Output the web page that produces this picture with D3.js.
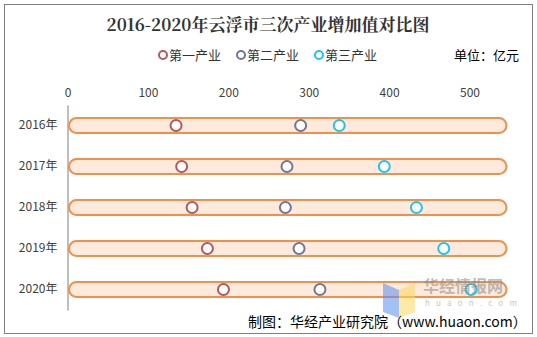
<!DOCTYPE html>
<html>
<head>
<meta charset="utf-8">
<script src="https://cdn.jsdelivr.net/npm/d3@7/dist/d3.min.js"></script>
<style>
  html, body { margin: 0; padding: 0; background: #fff; }
  svg { display: block; }
</style>
</head>
<body>
<svg id="chart" width="537" height="337"></svg>
<script>
// Value added by sector, Yunfu, 2016–2020 (100 million yuan)
const years = ["2016年", "2017年", "2018年", "2019年", "2020年"];
const primary = [135, 142, 155, 174, 194];
const secondary = [290, 273, 271, 288, 314];
const tertiary = [338, 394, 434, 468, 502];
const trackMax = [546, 546, 546, 546, 546];
const tickValues = [0, 100, 200, 300, 400, 500];
const seriesNames = ["第一产业", "第二产业", "第三产业"];
const seriesColors = ["#b3595c", "#6d7896", "#1ec3f7"];

const svg = d3.select("#chart");
const font = "'Microsoft YaHei', 'Noto Sans CJK SC', sans-serif";

// outer frame
svg.append("rect")
  .attr("x", 4.5).attr("y", 4.5).attr("width", 528).attr("height", 329)
  .attr("fill", "#fff").attr("stroke", "#7f7f7f").attr("stroke-width", 1);

// title
svg.append("text")
  .attr("x", 268).attr("y", 31)
  .attr("text-anchor", "middle")
  .attr("font-family", "'Noto Serif CJK SC', 'Noto Sans CJK SC', serif")
  .attr("font-weight", "bold").attr("font-size", 17)
  .attr("fill", "#333")
  .text("2016-2020年云浮市三次产业增加值对比图");

// legend
const legendX = [163, 241, 319];
seriesNames.forEach((name, i) => {
  const g = svg.append("g").attr("transform", `translate(${legendX[i]},55)`);
  g.append("circle").attr("r", 4).attr("fill", "#fff")
    .attr("stroke", seriesColors[i]).attr("stroke-width", 2);
  g.append("text").attr("x", 6).attr("y", 5)
    .attr("font-family", font).attr("font-size", 13).attr("fill", "#333")
    .text(name);
});

svg.append("text")
  .attr("x", 519).attr("y", 60).attr("text-anchor", "end")
  .attr("font-family", font).attr("font-size", 13).attr("fill", "#000")
  .text("单位：亿元");

// scales
const x = d3.scaleLinear().domain([0, 100]).range([67.5, 147.9]);
const y = d3.scaleBand().domain(years).range([105, 310]).paddingInner(0).paddingOuter(0);

// top axis labels
const xAxis = d3.axisTop(x).tickValues(tickValues).tickSize(0).tickPadding(0);
const gx = svg.append("g").attr("transform", "translate(0,97)").call(xAxis);
gx.select(".domain").remove();
gx.selectAll("text").attr("font-family", font).attr("font-size", 12).attr("fill", "#404040");

// left axis
const yAxis = d3.axisLeft(y).tickSize(0).tickPadding(10);
const gy = svg.append("g").attr("transform", "translate(67.5,0)").call(yAxis);
gy.select(".domain").attr("stroke", "#7f7f7f").attr("stroke-width", 1);
gy.selectAll("text").attr("font-family", font).attr("font-size", 12).attr("fill", "#404040");

// background tracks
const barH = 15;
svg.append("g").selectAll("rect")
  .data(years)
  .join("rect")
  .attr("x", x(0) + 1.5)
  .attr("y", d => y(d) + y.bandwidth() / 2 - barH / 2)
  .attr("width", (d, i) => x(trackMax[i]) - x(0) - 1.5)
  .attr("height", barH)
  .attr("rx", barH / 2).attr("ry", barH / 2)
  .attr("fill", "#fdeadc")
  .attr("stroke", "#f0904a").attr("stroke-width", 2);

// markers
[primary, secondary, tertiary].forEach((vals, s) => {
  svg.append("g").selectAll("circle")
    .data(vals)
    .join("circle")
    .attr("cx", d => x(d))
    .attr("cy", (d, i) => y(years[i]) + y.bandwidth() / 2)
    .attr("r", 5.5)
    .attr("fill", "#fff")
    .attr("stroke", seriesColors[s]).attr("stroke-width", 2);
});

// watermark
const wm = svg.append("g").attr("opacity", 0.55);
wm.append("path").attr("d", "M383,283 L399,290 L399,318 L383,312 Z").attr("fill", "#5b8ff0");
wm.append("path").attr("d", "M399,290 L415,283 L415,312 L399,318 Z").attr("fill", "#fdd95a");
wm.append("text").attr("x", 423).attr("y", 292)
  .attr("font-family", font).attr("font-weight", "bold").attr("font-size", 16)
  .attr("fill", "#8a8a8a").text("华经情报网");
wm.append("text").attr("x", 425).attr("y", 306)
  .attr("font-family", font).attr("font-size", 8).attr("letter-spacing", 6.2)
  .attr("fill", "#9a9a9a").text("huaon.com");

// source note
svg.append("text")
  .attr("x", 248).attr("y", 327)
  .attr("font-family", font).attr("font-size", 14).attr("fill", "#000")
  .text("制图：华经产业研究院（www.huaon.com）");
</script>
</body>
</html>
